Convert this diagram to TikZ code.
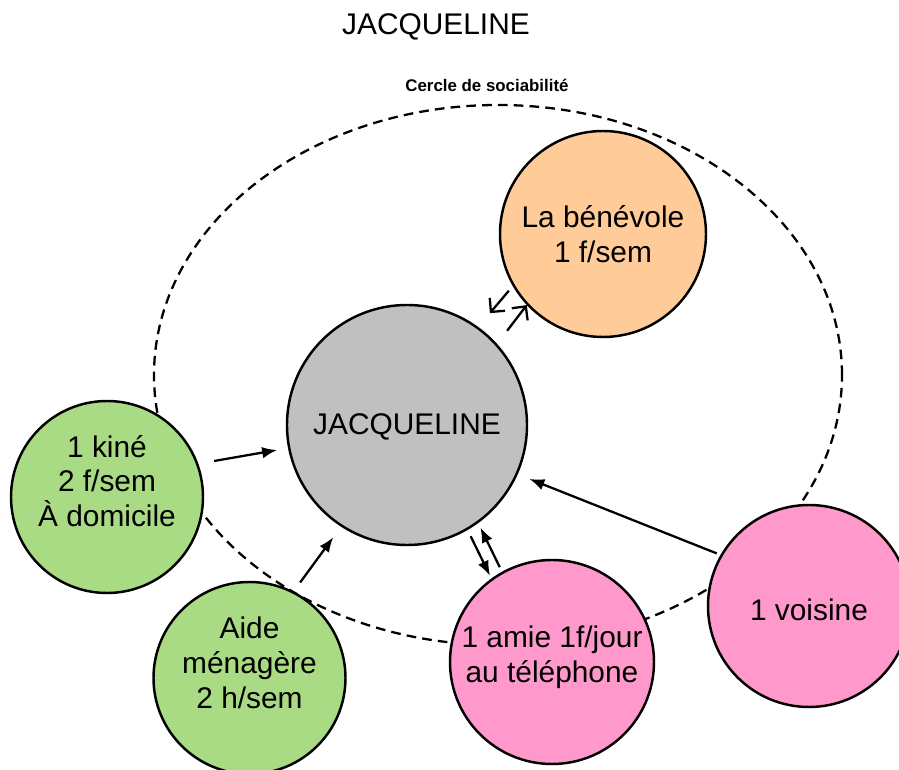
\documentclass[tikz,border=0pt]{standalone}
\usepackage{fontspec}
\setmainfont{Liberation Sans}
\usetikzlibrary{arrows.meta}

\definecolor{jacgray}{HTML}{C0C0C0}
\definecolor{benorange}{HTML}{FFCC99}
\definecolor{soingreen}{HTML}{A9DA84}
\definecolor{amiepink}{HTML}{FF99CC}

\begin{document}
\begin{tikzpicture}[
    person/.style = { circle, draw, line width = 1.4pt, inner sep = 0pt },
    persontext/.style = { align = center, inner sep = 0pt, font = \fontsize{17}{19.8}\selectfont },
    link/.style = { line width = 1.3pt, -{Latex[length = 3mm, width = 2.3mm]} },
    barb/.style = { line width = 1.3pt, -{Straight Barb[length = 2mm, width = 4mm]} }
]

\clip ( 0, 0 ) rectangle ( 17.98, 15.38 );

% Titles
\node (title) at ( 8.72, 14.84 ) [persontext] {JACQUELINE};
\node (cercletitle) at ( 9.74, 13.68 ) [font = \bfseries\fontsize{9.6}{11}\selectfont] {Cercle de sociabilité};

% Circle of sociability
\draw [line width = 1.3pt, dash pattern = on 5.5pt off 3.5pt] ( 9.96, 7.88 ) ellipse [x radius = 6.88, y radius = 5.40];

% People
\node (jac) at ( 8.14, 6.88 ) [person, fill = jacgray, minimum size = 4.8cm] {};
\node (ben) at ( 12.06, 10.70 ) [person, fill = benorange, minimum size = 4.12cm] {};
\node (kine) at ( 2.14, 5.44 ) [person, fill = soingreen, minimum size = 3.84cm] {};
\node (aide) at ( 4.99, 1.82 ) [person, fill = soingreen, minimum size = 3.84cm] {};
\node (amie) at ( 11.04, 2.14 ) [person, fill = amiepink, minimum size = 4.08cm] {};
\node (voisine) at ( 16.18, 3.26 ) [person, fill = amiepink, minimum size = 4.04cm] {};

\node (jactext) at ([yshift=-0.04cm]jac) [persontext] {JACQUELINE};
\node (bentext) at (ben) [persontext] {La bénévole\\1 f/sem};
\node (kinetext) at ([yshift=0.32cm]kine) [persontext] {1 kiné\\2 f/sem\\À domicile};
\node (aidetext) at ([yshift=0.30cm]aide) [persontext] {Aide\\ménagère\\2 h/sem};
\node (amietext) at ([yshift=0.09cm]amie) [persontext] {1 amie 1f/jour\\au téléphone};
\node (voisinetext) at ([yshift=-0.08cm]voisine) [persontext] {1 voisine};

% Links
\draw [barb, shorten <= 0.12cm, shorten >= 0.36cm] (ben.210) -- (jac.54);
\draw [barb, shorten <= 0.33cm] (jac.42) -- (ben.223);
\draw [link, shorten <= 0.32cm, shorten >= 0.22cm] (kine.20) -- (jac.191);
\draw [link, shorten <= 0.22cm, shorten >= 0.26cm] (aide.63) -- (jac.237);
\draw [link, shorten <= 0.14cm, shorten >= 0.06cm] (jac.300) -- (amie.126);
\draw [link, shorten <= 0.10cm, shorten >= 0.10cm] (amie.119) -- (jac.306);
\draw [link, shorten <= 0.08cm, shorten >= 0.25cm] (voisine.150) -- (jac.336);

\end{tikzpicture}
\end{document}
